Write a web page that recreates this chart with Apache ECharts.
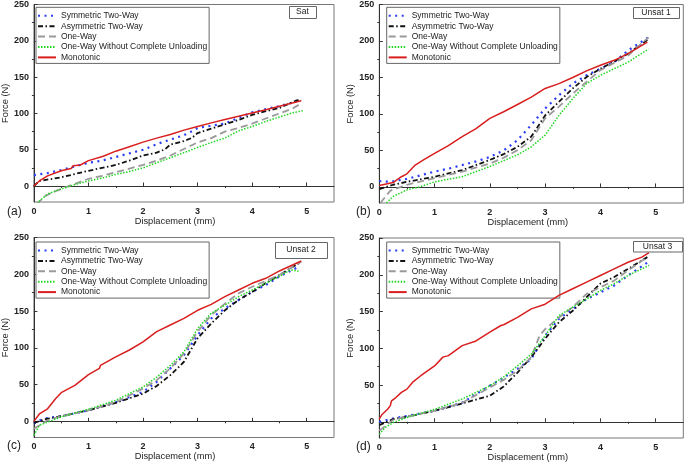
<!DOCTYPE html>
<html>
<head>
<meta charset="utf-8">
<script src="https://cdn.jsdelivr.net/npm/echarts@6/dist/echarts.min.js"></script>
<style>html,body{margin:0;padding:0;background:#fff;}#c{width:685px;height:463px;}</style>
</head>
<body>
<div id="c"></div>
<script>
// ---------- data ----------
const seriesNames = ['Symmetric Two-Way', 'Asymmetric Two-Way', 'One-Way', 'One-Way Without Complete Unloading', 'Monotonic'];
const panelTags = ['Sat', 'Unsat 1', 'Unsat 2', 'Unsat 3'];
const panelLetters = ['(a)', '(b)', '(c)', '(d)'];
const xTickValues = [0, 1, 2, 3, 4, 5];
const xMinorValues = [0.5, 1.5, 2.5, 3.5, 4.5];
const yTickValues = [0, 50, 100, 150, 200, 250];
const yMinorValues = [25, 75, 125, 175, 225];

// Panel (a) Sat
const satSym = [[0,15],[0.25,17.8],[0.5,22],[0.8,28],[1,32],[1.25,35],[1.5,40],[1.75,45],[2,50],[2.3,59],[2.5,64],[2.75,70],[2.9,75.6],[3,80],[3.25,83],[3.5,86],[3.75,94],[4,101.5],[4.25,106],[4.5,110],[4.75,115],[4.9,120]];
const satAsym = [[0,0],[0.1,7],[0.5,12],[1,21],[1.5,29],[1.75,35],[2,42],[2.25,46],[2.4,50.5],[2.5,57],[2.75,62],[2.9,66.5],[3,73],[3.25,79],[3.5,85],[3.75,91],[4,98],[4.25,103],[4.5,107.5],[4.8,117.5],[4.9,119]];
const satOne = [[0.05,-25],[0.2,-14],[0.36,-8],[0.5,-4],[0.75,3],[1,10],[1.25,14],[1.5,19],[1.75,24],[2,29],[2.25,35],[2.5,42],[2.75,51],[3,60],[3.25,66],[3.5,75],[3.75,80],[4,86],[4.25,93],[4.5,100],[4.75,107],[4.9,114]];
const satOneW = [[0.05,-24],[0.25,-11],[0.5,-4],[0.75,2],[1,7],[1.25,11],[1.5,16],[1.75,20],[2,25],[2.25,32],[2.5,39],[2.75,46],[3,53],[3.25,60],[3.5,66],[3.75,76],[4,82],[4.25,89],[4.5,95],[4.75,101],[4.95,104]];
const satMono = [[0,0],[0.1,7],[0.25,14],[0.5,21],[0.68,24],[0.72,28],[0.85,29],[1,35],[1.27,41],[1.5,48],[1.75,54],[2,60.5],[2.25,66],[2.5,71],[2.75,77],[3,82],[3.25,87],[3.5,91.5],[3.75,96],[4,100.6],[4.25,105],[4.5,110],[4.9,117.5]];

// Panel (b) Unsat 1
const u1Sym = [[0,8],[0.2,7],[0.5,11],[0.75,16],[1,21],[1.25,25],[1.5,30],[1.75,35],[2,41],[2.25,50],[2.5,64],[2.75,85],[3,107.5],[3.25,125.7],[3.5,141.6],[3.75,153],[4,162],[4.25,171],[4.5,187],[4.87,205]];
const u1Asym = [[0,-3],[0.25,3],[0.5,7],[1,14],[1.5,23],[2,37],[2.25,45],[2.5,55],[2.75,69],[3,98],[3.25,116.6],[3.5,135],[3.75,150.7],[4,162],[4.25,172],[4.5,182.6],[4.88,203]];
const u1One = [[0.02,-22],[0.2,-5],[0.5,3],[1,12],[1.5,21],[2,32],[2.25,40],[2.5,50.5],[2.75,64],[3,94],[3.25,110],[3.5,128],[3.75,144],[4,160],[4.25,170],[4.5,180],[4.87,205]];
const u1OneW = [[0.13,-22],[0.25,-13],[0.5,-4],[0.75,0.5],[1,7],[1.5,14],[2,28],[2.5,44],[2.75,55],[3,71],[3.25,98],[3.5,121],[3.75,141.6],[4,153],[4.25,162],[4.5,171],[4.87,189]];
const u1Mono = [[0,2],[0.25,6],[0.4,14],[0.5,18],[0.65,30],[0.8,37],[1,46],[1.25,56.5],[1.5,69],[1.75,80],[2,94],[2.25,103],[2.5,113],[2.75,123],[3,135],[3.25,141.6],[3.5,150],[3.75,159],[4,166.7],[4.25,173.5],[4.5,182.6],[4.85,198.5]];

// Panel (c) Unsat 2
const u2Sym = [[0,-3],[0.1,1.4],[0.25,4.5],[0.5,7],[1,15],[1.5,26],[2,40],[2.25,53.6],[2.5,72],[2.75,90],[3,117],[3.25,140],[3.5,153.6],[3.75,165],[4,176],[4.25,185.5],[4.5,197],[4.85,210]];
const u2Asym = [[0,-2],[0.25,3.6],[0.5,7],[1,15],[1.5,25],[2,37.7],[2.25,48],[2.5,62.7],[2.75,81],[3,113],[3.25,133],[3.5,151],[3.75,165],[4,176],[4.25,188],[4.5,199],[4.9,217]];
const u2One = [[0,-10],[0.25,1.4],[0.5,7],[1,15],[1.5,26],[2,44.5],[2.25,56],[2.5,72],[2.75,92],[3,122],[3.25,144.5],[3.5,160],[3.75,174],[4,183],[4.25,191],[4.5,199],[4.9,217]];
const u2OneW = [[0,-19],[0.1,-5.5],[0.25,-1],[0.5,6],[1,16.4],[1.5,28.6],[2,46.8],[2.25,60],[2.5,76],[2.75,94.5],[3,126],[3.25,147],[3.5,158],[3.75,169.5],[4,178.6],[4.25,188],[4.5,197],[4.7,206],[4.85,204]];
const u2Mono = [[0,0],[0.1,10],[0.25,17],[0.4,31],[0.5,39],[0.75,49],[1,63.6],[1.2,72],[1.22,76],[1.5,87.7],[1.75,97],[2,108],[2.25,122],[2.5,131],[2.75,140],[3,151],[3.25,159],[3.5,169.5],[3.75,178.6],[4,187.7],[4.25,194.5],[4.5,204.5],[4.9,218]];

// Panel (d) Unsat 3
const u3Sym = [[0,0],[0.25,4.5],[0.5,8],[1,15],[1.5,26],[2,49],[2.25,60],[2.5,72],[2.75,85.5],[3,117],[3.25,140],[3.5,153.6],[3.75,167],[4,176],[4.25,185.5],[4.5,199],[4.88,218]];
const u3Asym = [[0,-4.5],[0.25,3.6],[0.5,7],[1,15],[1.5,25],[2,35.5],[2.25,48],[2.5,67],[2.75,88],[3,113],[3.25,135.5],[3.5,151],[3.75,169.5],[4,188],[4.25,197],[4.5,208],[4.85,224]];
const u3One = [[0,-12],[0.25,2.7],[0.5,7],[1,15],[1.5,26],[2,46.8],[2.25,57],[2.5,69.5],[2.75,88],[2.9,117],[3,126],[3.25,142],[3.5,156],[3.75,174],[4,183],[4.25,192],[4.5,206],[4.85,224]];
const u3OneW = [[0,-17],[0.1,-8],[0.25,-1],[0.5,6],[1,17],[1.5,31],[2,49],[2.25,61],[2.5,76],[2.75,92],[3,117],[3.25,144.5],[3.5,156],[3.75,167],[4,178.6],[4.25,188],[4.5,199],[4.88,212.7]];
const u3Mono = [[0,4],[0.05,10],[0.15,17],[0.2,22],[0.22,28.6],[0.3,33],[0.4,40],[0.5,44.5],[0.6,53.6],[0.75,62.7],[1,76],[1.15,88],[1.25,90],[1.5,103.6],[1.75,110],[2,122],[2.2,131],[2.25,132],[2.5,142],[2.75,153.6],[3,160],[3.25,172],[3.5,181],[3.75,190],[4,199],[4.25,208],[4.5,217],[4.75,224],[4.88,230]];

const panelData = [
  [satSym, satAsym, satOne, satOneW, satMono],
  [u1Sym, u1Asym, u1One, u1OneW, u1Mono],
  [u2Sym, u2Asym, u2One, u2OneW, u2Mono],
  [u3Sym, u3Asym, u3One, u3OneW, u3Mono]
];

// ---------- layout / style ----------
const FONT = 'Liberation Sans, Arial, sans-serif';
const grids = [
  {left: 30, top: 3.5, width: 304, height: 198.5},
  {left: 379.3, top: 4, width: 304, height: 199},
  {left: 30, top: 237.5, width: 304, height: 200},
  {left: 379.3, top: 238, width: 304, height: 200}
];
const xNameShift = [18, 7, 18, 7];
const lineStyles = [
  {color: '#2a3cf5', width: 2.2, type: [2, 4.5], cap: 'butt'},
  {color: '#111111', width: 1.8, type: [5, 2.5, 1.5, 2.5], cap: 'butt'},
  {color: '#9a9a9a', width: 1.8, type: [7, 4], cap: 'butt'},
  {color: '#22d622', width: 1.5, type: [1.5, 1.5], cap: 'butt'},
  {color: '#d81e1e', width: 1.5, type: 'solid'}
];
const legendPos = [
  {left: 36, top: 7.3}, {left: 386.7, top: 7.3}, {left: 36, top: 242}, {left: 386.7, top: 242}
];
const tagBoxes = [
  {x: 289, y: 6, w: 27, h: 12},
  {x: 633, y: 7, w: 46, h: 11},
  {x: 275, y: 242, w: 52, h: 16},
  {x: 633, y: 241, w: 49, h: 10.5}
];
const letterPos = [{x: 7, y: 212}, {x: 356, y: 212}, {x: 7, y: 446}, {x: 356, y: 447}];

const option = {
  backgroundColor: '#fff',
  animation: false,
  grid: [], xAxis: [], yAxis: [], series: [], legend: [], graphic: []
};

grids.forEach((g, i) => {
  option.grid.push(Object.assign({show: true, borderColor: '#777', borderWidth: 1, backgroundColor: 'transparent'}, g));
  option.xAxis.push({
    type: 'value', gridIndex: i, min: 0, max: 5.5, interval: 1,
    name: 'Displacement (mm)', nameLocation: 'middle', nameGap: 14,
    nameTextStyle: {fontSize: 9.3, fontFamily: FONT, color: '#222', padding: [0, xNameShift[i], 0, 0]},
    axisLine: {show: true, lineStyle: {color: '#333', width: 1}},
    axisTick: {show: true, inside: true, length: 3.5, customValues: xTickValues, lineStyle: {color: '#333'}},
    axisLabel: {show: true, customValues: xTickValues, fontSize: 9, fontWeight: 'bold', fontFamily: FONT, color: '#222', margin: 5,
      formatter: v => (Number.isInteger(v) ? String(v) : '')},
    splitLine: {show: false}
  });
  option.xAxis.push({
    type: 'value', gridIndex: i, min: 0, max: 5.5, interval: 0.5,
    axisLine: {show: false},
    axisTick: {show: true, inside: true, length: 2, customValues: xMinorValues, lineStyle: {color: '#333'}},
    axisLabel: {show: false}, splitLine: {show: false}
  });
  option.yAxis.push({
    type: 'value', gridIndex: i, min: -22, max: 250,
    name: 'Force (N)', nameLocation: 'middle', nameGap: 21, nameRotate: 90,
    nameTextStyle: {fontSize: 9.3, fontFamily: FONT, color: '#222'},
    axisLine: {show: true, lineStyle: {color: '#333', width: 1}},
    axisTick: {show: true, inside: true, length: 3.5, customValues: yTickValues, lineStyle: {color: '#333'}},
    axisLabel: {show: true, customValues: yTickValues, fontSize: 9, fontWeight: 'bold', fontFamily: FONT, color: '#222', margin: 5,
      formatter: v => (v % 50 === 0 ? String(v) : '')},
    splitLine: {show: false}
  });
  option.yAxis.push({
    type: 'value', gridIndex: i, min: -22, max: 250,
    axisLine: {show: false},
    axisTick: {show: true, inside: true, length: 2, customValues: yMinorValues, lineStyle: {color: '#333'}},
    axisLabel: {show: false}, splitLine: {show: false}
  });

  panelData[i].forEach((d, k) => {
    option.series.push({
      type: 'line', name: seriesNames[k], data: d,
      xAxisIndex: 2 * i, yAxisIndex: 2 * i,
      symbol: 'none', showSymbol: false, smooth: false, clip: true,
      lineStyle: lineStyles[k], itemStyle: {color: lineStyles[k].color},
      z: k === 4 ? 5 : 3
    });
  });

  option.legend.push({
    orient: 'vertical', left: legendPos[i].left, top: legendPos[i].top,
    itemWidth: 18, itemHeight: 10, itemGap: 0.4, padding: [3.5, 2, 1, 1],
    borderColor: '#666', borderWidth: 1, backgroundColor: '#fff',
    selectedMode: false,
    itemStyle: {opacity: 0},
    textStyle: {fontSize: 8.5, fontFamily: FONT, color: '#222', lineHeight: 10},
    data: seriesNames
  });

  const tb = tagBoxes[i];
  option.graphic.push({
    type: 'rect', left: tb.x, top: tb.y, z: 10,
    shape: {width: tb.w, height: tb.h},
    style: {fill: '#fff', stroke: '#666', lineWidth: 1}
  });
  option.graphic.push({
    type: 'text', x: tb.x + tb.w / 2, y: tb.y + tb.h / 2, z: 11,
    style: {text: panelTags[i], fontSize: 8.5, fontFamily: FONT, fill: '#222', align: 'center', verticalAlign: 'middle'}
  });
  option.graphic.push({
    type: 'text', x: letterPos[i].x, y: letterPos[i].y, z: 11,
    style: {text: panelLetters[i], fontSize: 12, fontFamily: FONT, fill: '#222', align: 'left', verticalAlign: 'middle'}
  });
});

const chart = echarts.init(document.getElementById('c'), null, {renderer: 'canvas'});
chart.setOption(option);
</script>
</body>
</html>
